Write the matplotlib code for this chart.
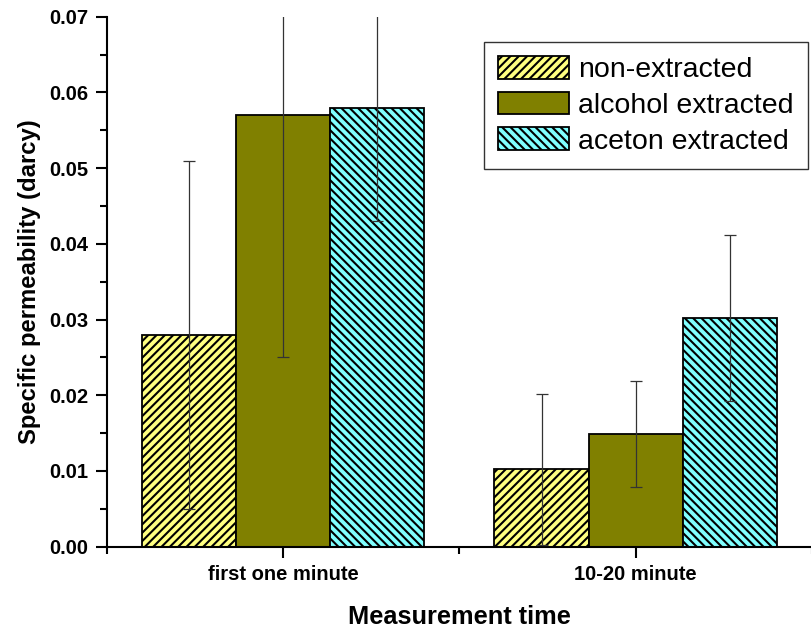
import numpy as np
import matplotlib
matplotlib.use('Agg')
import matplotlib.pyplot as plt
from matplotlib.ticker import MultipleLocator, FixedLocator

plt.rcParams['font.family'] = ['Liberation Sans', 'DejaVu Sans']
plt.rcParams['hatch.linewidth'] = 1.5

# measurement groups and series
groups = ['first one minute', '10-20 minute']
series = ['non-extracted', 'alcohol extracted', 'aceton extracted']
values = [
    [0.028, 0.0102],   # non-extracted
    [0.057, 0.0149],   # alcohol extracted
    [0.058, 0.0302],   # aceton extracted
]
errors = [
    [0.023, 0.010],
    [0.032, 0.007],
    [0.015, 0.011],
]
colors = ['#FFFF80', '#808000', '#80FFFF']
hatches = ['////', '', '\\\\\\\\']

fig = plt.figure(figsize=(8.12, 6.28), dpi=100)
ax = fig.add_axes([0.1314, 0.1295, 0.8686, 0.8439])

x = np.arange(1, len(groups) + 1)
w = 0.267
for i, name in enumerate(series):
    pos = x + (i - 1) * w
    ax.bar(pos, values[i], width=w, color=colors[i], edgecolor='black',
           linewidth=1.3, hatch=hatches[i], label=name, zorder=2)
    ax.errorbar(pos, values[i], yerr=errors[i], fmt='none', ecolor='#333333',
                elinewidth=0.9, capsize=4.5, capthick=0.9, zorder=3)

ax.set_xlim(0.5, 2.5)
ax.set_ylim(0, 0.07)
ax.set_xticks(x)
ax.set_xticklabels(groups)
ax.xaxis.set_minor_locator(FixedLocator([0.5, 1.5, 2.5]))
ax.yaxis.set_major_locator(MultipleLocator(0.01))
ax.yaxis.set_minor_locator(MultipleLocator(0.005))
ax.yaxis.set_major_formatter(matplotlib.ticker.FormatStrFormatter('%.2f'))

for s in ['top', 'right']:
    ax.spines[s].set_visible(False)
for s in ['left', 'bottom']:
    ax.spines[s].set_linewidth(1.5)

ax.tick_params(which='major', direction='out', length=8, width=1.5, labelsize=14.5, pad=5)
ax.tick_params(which='minor', direction='out', length=5, width=1.5)
for lab in ax.get_xticklabels() + ax.get_yticklabels():
    lab.set_fontweight('bold')

ax.set_xlabel('Measurement time', fontsize=18.3, fontweight='bold', labelpad=15)
ax.set_ylabel('Specific permeability (darcy)', fontsize=17.2, fontweight='bold', labelpad=6)

leg = ax.legend(loc='upper left', bbox_to_anchor=(0.535, 0.953), borderaxespad=0,
                fontsize=20.5, handlelength=2.5, handleheight=0.85, handletextpad=0.3,
                labelspacing=0.3, borderpad=0.5, fancybox=False, framealpha=1)
leg.get_frame().set_edgecolor('#333333')
leg.get_frame().set_linewidth(1.0)

fig.savefig('out.png', dpi=100)
